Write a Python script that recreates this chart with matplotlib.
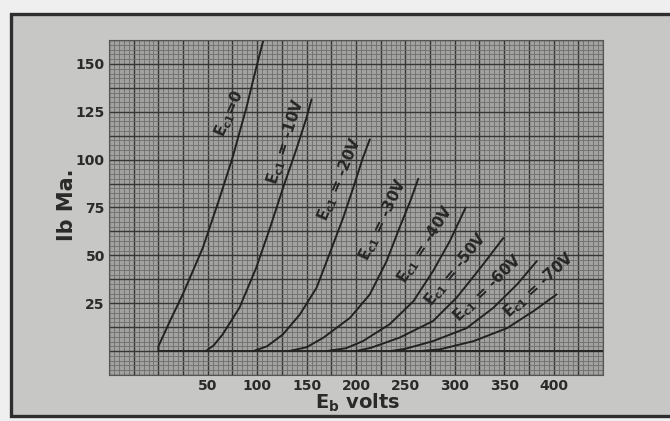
import numpy as np
import matplotlib
matplotlib.use("Agg")
import matplotlib.pyplot as plt
from matplotlib.patches import Rectangle
from matplotlib.ticker import MultipleLocator, FuncFormatter

# Plate characteristic curves: plate voltage Eb (V) vs plate current Ib (mA)
grid_bias = ["0", "-10V", "-20V", "-30V", "-40V", "-50V", "-60V", "-70V"]

eb_0 = [0, 0, 12, 25, 45, 62, 75, 89, 99, 106]
ib_0 = [0, 2.5, 16, 30, 54, 80, 101, 127, 148, 162]

eb_10 = [48, 56, 65, 82, 99, 113, 126, 140, 150, 155]
ib_10 = [0, 3, 8.7, 22.6, 43.5, 64.4, 85, 106, 122, 131.5]

eb_20 = [96, 110, 126, 143, 160, 173, 187, 197, 207, 214]
ib_20 = [0, 2.5, 8.7, 19, 33, 50.5, 69.6, 85, 101, 110.6]

eb_30 = [132, 150, 167, 194, 214, 231, 244, 255, 263]
ib_30 = [0, 2, 7, 17.4, 29.6, 47, 64.4, 78.4, 90]

eb_40 = [170, 190, 207, 234, 258, 278, 295, 311]
ib_40 = [0, 1.5, 5.2, 14, 26, 41.8, 57.5, 75]

eb_50 = [200, 215, 244, 278, 302, 326, 349]
ib_50 = [0, 1.7, 7, 15.7, 28, 43.5, 59]

eb_60 = [235, 250, 278, 312, 339, 363, 383]
ib_60 = [0, 1.2, 5.2, 12, 22.6, 34.8, 47]

eb_70 = [265, 285, 319, 353, 380, 403]
ib_70 = [0, 0.9, 5.2, 12, 21, 29.6]

curves_eb = [eb_0, eb_10, eb_20, eb_30, eb_40, eb_50, eb_60, eb_70]
curves_ib = [ib_0, ib_10, ib_20, ib_30, ib_40, ib_50, ib_60, ib_70]

# label anchor (Eb, Ib) and slant for each curve label
label_eb = [72, 128.6, 183.6, 227.5, 270.6, 301, 333, 385]
label_ib = [124, 109.3, 89.7, 68.8, 55.7, 42.7, 33, 34.5]
label_angle = [66, 72, 67, 64, 57, 51, 44, 42]

x_ticks = [50, 100, 150, 200, 250, 300, 350, 400]
y_ticks = [25, 50, 75, 100, 125, 150]

x_min, x_max = -50, 450
y_min, y_max = -12.5, 162.5
zero_line_start = 0

fig = plt.figure(figsize=(6.7, 4.21), dpi=100, facecolor="#efefef")

# mounting card with dark border
card = Rectangle((11 / 670, 5 / 421), 1.2, 402 / 421, transform=fig.transFigure,
                 facecolor="#c7c7c5", edgecolor="#2e2e2e", linewidth=2.4, zorder=-5)
fig.patches.append(card)

ax = fig.add_axes([109 / 670, 46 / 421, 494 / 670, 335 / 421])
ax.set_zorder(2)
ax.set_facecolor("#a2a2a0")
ax.set_xlim(x_min, x_max)
ax.set_ylim(y_min, y_max)

ax.xaxis.set_major_locator(MultipleLocator(25))
ax.xaxis.set_minor_locator(MultipleLocator(5))
ax.yaxis.set_major_locator(MultipleLocator(12.5))
ax.yaxis.set_minor_locator(MultipleLocator(2.5))
ax.grid(which="minor", color="#6e6e6c", linewidth=0.6)
ax.grid(which="major", color="#363636", linewidth=1.0)
ax.set_axisbelow(True)


def only(vals):
    def fmt(v, pos):
        for t in vals:
            if abs(v - t) < 1e-6:
                return f"{t:g}"
        return ""
    return FuncFormatter(fmt)


ax.xaxis.set_major_formatter(only(x_ticks))
ax.yaxis.set_major_formatter(only(y_ticks))
ax.tick_params(which="both", length=0, colors="#2a2a2a")
ax.tick_params(axis="x", pad=3)
ax.tick_params(axis="y", pad=3)
for lab in ax.get_xticklabels() + ax.get_yticklabels():
    lab.set_fontweight("bold")
    lab.set_fontsize(10)
for s in ax.spines.values():
    s.set_color("#555555")
    s.set_linewidth(0.8)

# zero-current baseline
ax.hlines(0, zero_line_start, x_max, color="#262626", linewidth=1.4)

for eb, ib in zip(curves_eb, curves_ib):
    ax.plot(eb, ib, color="#222222", linewidth=1.4, solid_capstyle="round",
            solid_joinstyle="round")

for bias, lx, ly, ang in zip(grid_bias, label_eb, label_ib, label_angle):
    sep = "=" if bias == "0" else " = "
    ax.text(lx, ly, r"$\mathbf{E_{c1}}$" + sep + bias, rotation=ang,
            rotation_mode="anchor", ha="center", va="center",
            fontsize=11, fontweight="bold", color="#262626")

fig.text(67 / 670, 1 - 205 / 421, "Ib Ma.", rotation=90, ha="center", va="center",
         fontsize=15, fontweight="bold", color="#2a2a2a")
fig.text(358 / 670, 1 - 403 / 421, r"$\mathbf{E_{b}}$ volts", ha="center", va="center",
         fontsize=14, fontweight="bold", color="#2a2a2a")

fig.savefig("out.png", dpi=100, facecolor=fig.get_facecolor())
